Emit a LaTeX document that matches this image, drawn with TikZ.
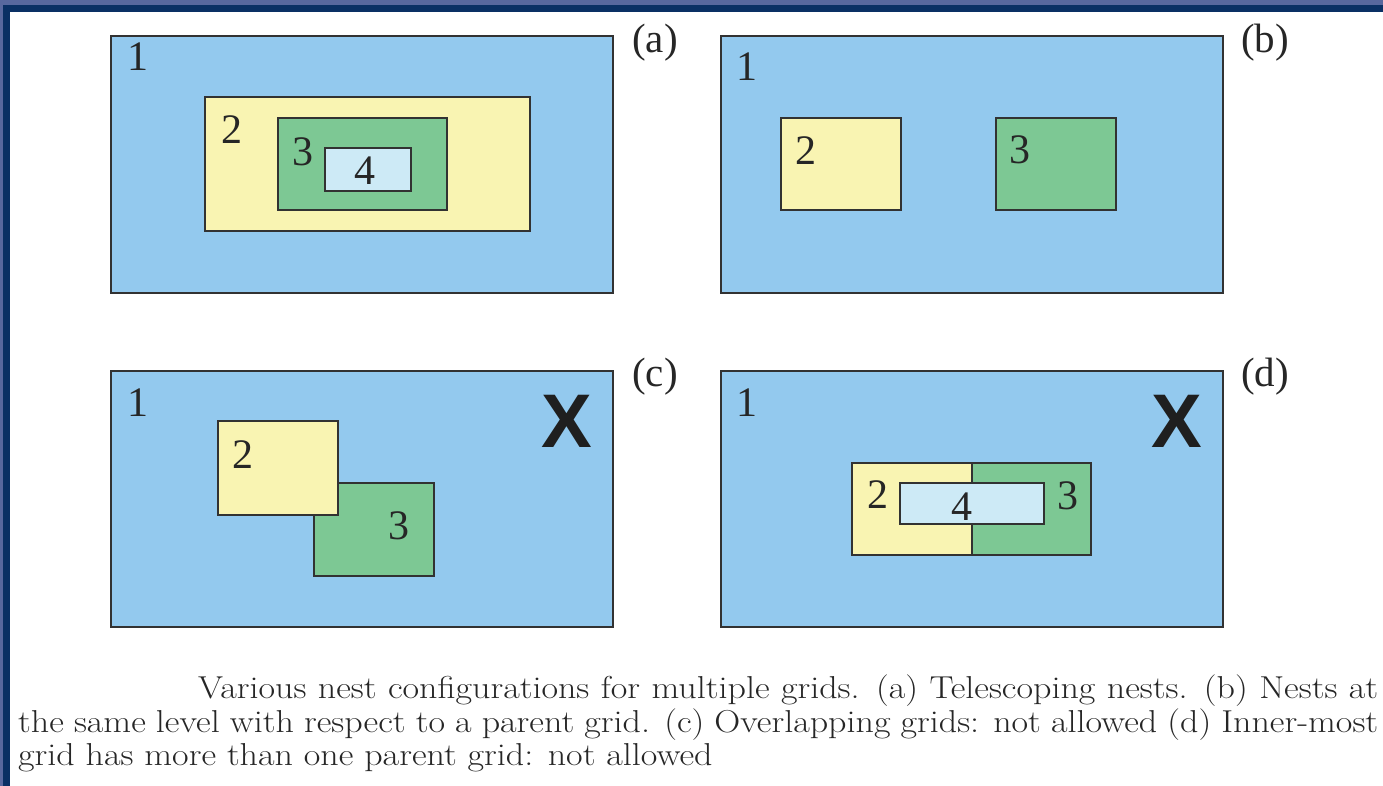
\documentclass[tikz,border=0pt]{standalone}
\usepackage{fontspec}
\newfontfamily\figfont{Liberation Serif}
\newfontfamily\xfont{Liberation Sans}
\definecolor{gblue}{RGB}{147,201,238}
\definecolor{gyellow}{RGB}{249,244,178}
\definecolor{ggreen}{RGB}{125,200,148}
\definecolor{glight}{RGB}{205,234,246}
\definecolor{gline}{RGB}{50,50,50}
\definecolor{frameout}{RGB}{88,104,158}
\definecolor{framenavy}{RGB}{10,48,100}
\newcommand{\capline}[1]{\scalebox{1}[0.88]{#1}}
\tikzset{
  gridbox/.style={draw=gline,line width=1.2pt},
  lvlone/.style={gridbox,fill=gblue},
  lvltwo/.style={gridbox,fill=gyellow},
  lvlthree/.style={gridbox,fill=ggreen},
  lvlfour/.style={gridbox,fill=glight},
  num/.style={inner sep=0pt,font=\figfont\fontsize{42}{42}\selectfont,text=black!85},
  tag/.style={inner sep=0pt,font=\figfont\fontsize{41}{41}\selectfont,text=black!85},
  cross/.style={inner sep=0pt,font=\xfont\bfseries\fontsize{76}{76}\selectfont,text=black!88},
  captext/.style={inner sep=0pt,anchor=base west,font=\fontsize{36}{40}\selectfont,text=black!85}
}
\begin{document}
\begin{tikzpicture}[x=1pt,y=-1pt]
\useasboundingbox (0,0) rectangle (1383,786);
% frame
\fill[frameout] (0,0) rectangle (1383,786);
\fill[framenavy] (3,5) rectangle (1383,786);
\fill[white] (10,12) rectangle (1383,786);

% (a)
\path[lvlone] (111,36) rectangle (613,293);
\path[lvltwo] (205,97) rectangle (530,231);
\path[lvlthree] (278,118) rectangle (447,210);
\path[lvlfour] (325,148) rectangle (411,191);
\node[num] (a1) at (138,57) {1};
\node[num] (a2) at (232,130) {2};
\node[num] (a3) at (303,152) {3};
\node[num] (a4) at (365,171) {4};
\node[tag] (ta) at (655,43) {(a)};

% (b)
\path[lvlone] (721,36) rectangle (1223,293);
\path[lvltwo] (781,118) rectangle (901,210);
\path[lvlthree] (996,118) rectangle (1116,210);
\node[num] (b1) at (747,67) {1};
\node[num] (b2) at (806,151) {2};
\node[num] (b3) at (1020,150) {3};
\node[tag] (tb) at (1265,43) {(b)};

% (c)
\path[lvlone] (111,371) rectangle (613,627);
\path[lvlthree] (314,483) rectangle (434,576);
\path[lvltwo] (218,421) rectangle (338,515);
\node[num] (c1) at (138,403) {1};
\node[num] (c2) at (243,455) {2};
\node[num] (c3) at (399,526) {3};
\node[cross] (cx) at (567,421) {X};
\node[tag] (tc) at (655,377) {(c)};

% (d)
\path[lvlone] (721,371) rectangle (1223,627);
\path[lvltwo] (852,463) rectangle (972,555);
\path[lvlthree] (972,463) rectangle (1091,555);
\path[lvlfour] (900,483) rectangle (1044,524);
\node[num] (d1) at (747,403) {1};
\node[num] (d2) at (878,495) {2};
\node[num] (d4) at (962,507) {4};
\node[num] (d3) at (1068,496) {3};
\node[cross] (dx) at (1177,421) {X};
\node[tag] (td) at (1265,377) {(d)};

% caption
\node[captext] (cap1) at (198,698) {\capline{\makebox[1180pt][s]{Various nest configurations for multiple grids. (a) Telescoping nests. (b) Nests at}}};
\node[captext] (cap2) at (18,732) {\capline{\makebox[1360pt][s]{the same level with respect to a parent grid. (c) Overlapping grids: not allowed (d) Inner-most}}};
\node[captext] (cap3) at (18,765) {\capline{grid has more than one parent grid: not allowed}};
\end{tikzpicture}
\end{document}
